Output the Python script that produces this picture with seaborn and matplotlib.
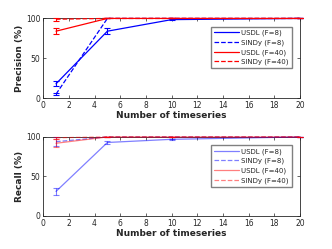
import numpy as np
import pandas as pd
import matplotlib
matplotlib.use("Agg")
import matplotlib.pyplot as plt
from matplotlib.lines import Line2D
import seaborn as sns

x = [1, 5, 10, 20]
series = ["USDL (F=8)", "SINDy (F=8)", "USDL (F=40)", "SINDy (F=40)"]
prec_usdl8 = [18, 84, 98.5, 100]
prec_sindy8 = [5, 100, 100, 100]
prec_usdl40 = [84, 100, 100, 100]
prec_sindy40 = [99, 100, 100, 100]
prec_err_usdl8 = [3, 4, 0.5, 0]
prec_err_sindy8 = [1, 0, 0, 0]
prec_err_usdl40 = [4, 0, 0, 0]
prec_err_sindy40 = [2, 0, 0, 0]
rec_usdl8 = [31, 93, 97, 100]
rec_sindy8 = [94, 100, 100, 100]
rec_usdl40 = [92, 100, 100, 100]
rec_sindy40 = [99, 100, 100, 100]
rec_err_usdl8 = [4, 2, 0.5, 0]
rec_err_sindy8 = [6, 0, 0, 0]
rec_err_usdl40 = [5, 0, 0, 0]
rec_err_sindy40 = [1, 0, 0, 0]
xticks = [0, 2, 4, 6, 8, 10, 12, 14, 16, 18, 20]
yticks = [0, 50, 100]

sns.set_style("ticks")
plt.rcParams['font.family'] = ['DejaVu Sans']
plt.rcParams['xtick.direction'] = 'in'
plt.rcParams['ytick.direction'] = 'in'

fig = plt.figure(figsize=(3.32, 2.49), dpi=100)
ax1 = fig.add_axes([0.13, 0.606, 0.774, 0.32])
ax2 = fig.add_axes([0.13, 0.133, 0.774, 0.317])

colors = ["#0000ff", "#0000ff", "#ff0000", "#ff0000"]
styles = ["-", "--", "-", "--"]

def draw(ax, vals, errs, alpha, ylabel):
    rows = []
    for s, v in zip(series, vals):
        for xi, vi in zip(x, v):
            rows.append({"x": xi, "y": vi, "series": s})
    df = pd.DataFrame(rows)
    handles = []
    for s, v, e, c, ls in zip(series, vals, errs, colors, styles):
        sub = df[df.series == s]
        sns.lineplot(data=sub, x="x", y="y", ax=ax, color=c, linestyle=ls,
                     linewidth=0.9, alpha=alpha, legend=False, clip_on=False,
                     zorder=3)
        ax.errorbar(x, v, yerr=e, fmt='none', ecolor=c, elinewidth=0.8,
                    capsize=2.2, capthick=0.8, alpha=alpha, clip_on=False,
                    zorder=3)
        handles.append(Line2D([0], [0], color=c, linestyle=ls, linewidth=0.9,
                              alpha=alpha, label=s))
    ax.set_xlim(0, 20)
    ax.set_ylim(0, 100)
    ax.set_xticks(xticks)
    ax.set_yticks(yticks)
    ax.tick_params(labelsize=5.5, colors="#262626", length=2.5, width=0.5,
                   top=True, right=True, labelcolor="#262626", pad=2)
    for sp in ax.spines.values():
        sp.set_visible(True)
        sp.set_linewidth(0.6)
        sp.set_color("#262626")
    ax.set_xlabel("Number of timeseries", fontsize=6.5, fontweight="bold", labelpad=1)
    ax.set_ylabel(ylabel, fontsize=6.5, fontweight="bold", labelpad=1)
    leg = ax.legend(handles=handles, loc="upper right", bbox_to_anchor=(0.98, 0.94),
                    fontsize=5, frameon=True, fancybox=False, handlelength=3.6,
                    borderpad=0.45, labelspacing=0.45, handletextpad=0.3,
                    framealpha=1)
    leg.get_frame().set_edgecolor("#808080")
    leg.get_frame().set_linewidth(1.0)
    leg.set_zorder(5)

draw(ax1, [prec_usdl8, prec_sindy8, prec_usdl40, prec_sindy40],
     [prec_err_usdl8, prec_err_sindy8, prec_err_usdl40, prec_err_sindy40], 1.0, "Precision (%)")
draw(ax2, [rec_usdl8, rec_sindy8, rec_usdl40, rec_sindy40],
     [rec_err_usdl8, rec_err_sindy8, rec_err_usdl40, rec_err_sindy40], 0.5, "Recall (%)")

fig.savefig("out.png", dpi=100)
